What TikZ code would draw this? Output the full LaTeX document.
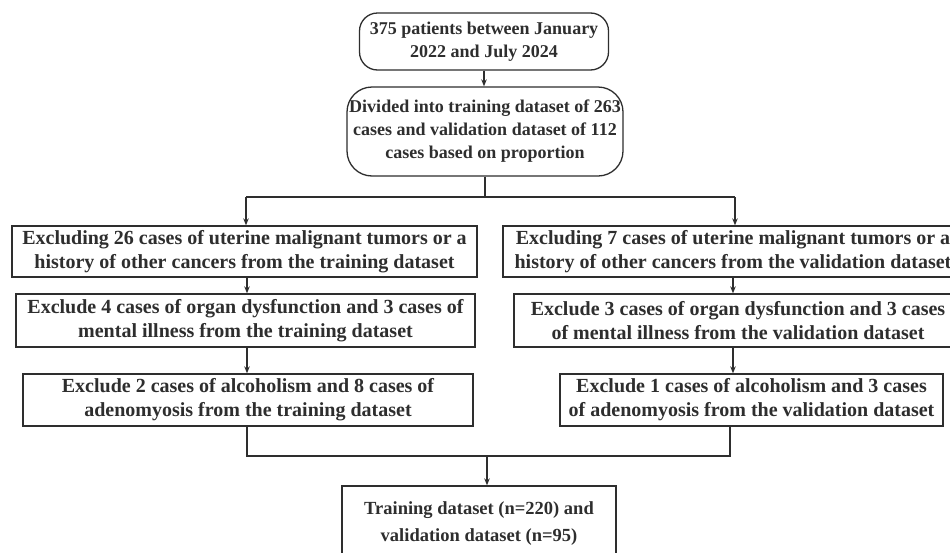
\documentclass[tikz,border=0pt]{standalone}
\usepackage{fontspec}
\setmainfont{Liberation Serif}
\usetikzlibrary{arrows.meta}
\definecolor{ink}{HTML}{2E2E2E}
\begin{document}
\begin{tikzpicture}[x=1pt,y=-1pt,
  box/.style={draw=ink,line width=1.3pt,fill=white,inner sep=0pt,align=center,text=ink},
  small/.style={font=\fontsize{18}{23}\selectfont\bfseries},
  big/.style={font=\fontsize{20}{24}\selectfont\bfseries},
  ln/.style={draw=ink,line width=1.2pt},
  ar/.style={ln,-{Stealth[length=7pt,width=5.5pt]}}]
\useasboundingbox (0,0) rectangle (950,552);
\clip (0,0) rectangle (950,552);
\fill[white] (0,0) rectangle (950,552);

\node[box,small,rounded corners=18pt,minimum width=249pt,minimum height=57pt] (top) at (484,41.5)
  {375 patients between January\\2022 and July 2024};
\node[box,small,rounded corners=25pt,minimum width=276pt,minimum height=89pt] (div) at (485,131.5)
  {Divided into training dataset of 263\\cases and validation dataset of 112\\cases based on proportion};

\node[box,big,minimum width=465pt,minimum height=51pt] (L1) at (244.5,251.5)
  {Excluding 26 cases of uterine malignant tumors or a\\history of other cancers from the training dataset};
\node[box,big,minimum width=459pt,minimum height=53pt] (L2) at (245.5,320.5)
  {Exclude 4 cases of organ dysfunction and 3 cases of\\mental illness from the training dataset};
\node[box,big,minimum width=450pt,minimum height=52pt] (L3) at (248,400)
  {Exclude 2 cases of alcoholism and 8 cases of\\adenomyosis from the training dataset};

\node[box,big,minimum width=460pt,minimum height=51pt] (R1) at (733,251.5)
  {Excluding 7 cases of uterine malignant tumors or a\\history of other cancers from the validation dataset};
\node[box,big,minimum width=448pt,minimum height=53pt] (R2) at (738,320.5)
  {Exclude 3 cases of organ dysfunction and 3 cases\\of mental illness from the validation dataset};
\node[box,big,minimum width=383pt,minimum height=52pt] (R3) at (751.5,400)
  {Exclude 1 cases of alcoholism and 3 cases\\of adenomyosis from the validation dataset};

\node[box,small,font=\fontsize{18.5}{27}\selectfont\bfseries,minimum width=274pt,minimum height=76pt] (fin) at (479,524)
  {Training dataset (n=220) and\\validation dataset (n=95)};

\coordinate (j1) at (485,197);
\coordinate (jl) at (246,197);
\coordinate (jr) at (735,197);
\coordinate (j2) at (487,456);

\draw[ar] (top.south) -- (div.north -| top.south);
\draw[ln] (div.south) -- (j1);
\draw[ln] (jl) -- (jr);
\draw[ar] (jl) -- (jl |- L1.north);
\draw[ar] (jr) -- (jr |- R1.north);
\draw[ar] (L1.south -| 247,0) -- (L2.north -| 247,0);
\draw[ar] (L2.south -| 247,0) -- (L3.north -| 247,0);
\draw[ar] (R1.south -| 733,0) -- (R2.north -| 733,0);
\draw[ar] (R2.south -| 733,0) -- (R3.north -| 733,0);
\draw[ln] (L3.south -| 247,0) |- (j2);
\draw[ln] (R3.south -| 730,0) |- (j2);
\draw[ar] (j2) -- (fin.north -| j2);
\end{tikzpicture}
\end{document}
